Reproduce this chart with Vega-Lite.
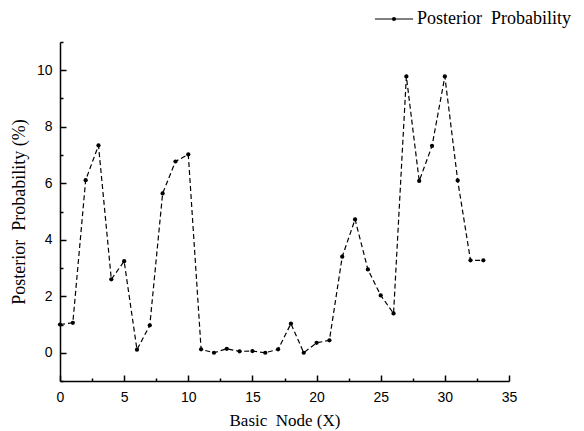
{
  "$schema": "https://vega.github.io/schema/vega-lite/v6.json",
  "autosize": "none",
  "width": 449,
  "height": 339,
  "padding": {"left": 60, "top": 42, "right": 75, "bottom": 50},
  "background": "white",
  "config": {
    "view": {"stroke": null},
    "axis": {
      "grid": false,
      "domainColor": "black",
      "domainWidth": 1.5,
      "tickColor": "black",
      "tickWidth": 1.5,
      "labelFont": "Liberation Sans",
      "labelFontSize": 14,
      "labelColor": "black",
      "titleFont": "Liberation Serif",
      "titleFontWeight": "normal",
      "titleColor": "black"
    }
  },
  "data": {
    "values": [
      {"x": 0, "y": 1.0},
      {"x": 1, "y": 1.06},
      {"x": 2, "y": 6.11},
      {"x": 3, "y": 7.34},
      {"x": 4, "y": 2.6},
      {"x": 5, "y": 3.24},
      {"x": 6, "y": 0.11},
      {"x": 7, "y": 0.97},
      {"x": 8, "y": 5.64},
      {"x": 9, "y": 6.77},
      {"x": 10, "y": 7.02},
      {"x": 11, "y": 0.12},
      {"x": 12, "y": 0.0},
      {"x": 13, "y": 0.14},
      {"x": 14, "y": 0.05},
      {"x": 15, "y": 0.06},
      {"x": 16, "y": 0.0},
      {"x": 17, "y": 0.12},
      {"x": 18, "y": 1.03},
      {"x": 19, "y": 0.0},
      {"x": 20, "y": 0.35},
      {"x": 21, "y": 0.44},
      {"x": 22, "y": 3.4},
      {"x": 23, "y": 4.72},
      {"x": 24, "y": 2.95},
      {"x": 25, "y": 2.03},
      {"x": 26, "y": 1.39},
      {"x": 27, "y": 9.78},
      {"x": 28, "y": 6.08},
      {"x": 29, "y": 7.32},
      {"x": 30, "y": 9.78},
      {"x": 31, "y": 6.1},
      {"x": 32, "y": 3.27},
      {"x": 33, "y": 3.27}
    ]
  },
  "encoding": {
    "x": {
      "field": "x",
      "type": "quantitative",
      "scale": {"domain": [0, 35], "nice": false, "zero": false},
      "axis": {
        "title": "Basic\u00a0\u00a0Node (X)",
        "titleFontSize": 17,
        "values": [0, 2.5, 5, 7.5, 10, 12.5, 15, 17.5, 20, 22.5, 25, 27.5, 30, 32.5, 35],
        "labelExpr": "datum.value % 5 === 0 ? datum.label : ''",
        "tickSize": {"condition": {"test": "datum.value % 5 === 0", "value": -6}, "value": -3},
        "labelPadding": 15,
        "titlePadding": 5,
        "labelFlush": false,
        "labelOverlap": false
      }
    },
    "y": {
      "field": "y",
      "type": "quantitative",
      "scale": {"domain": [-1, 11], "nice": false, "zero": false},
      "axis": {
        "title": "Posterior\u00a0\u00a0Probability (%)",
        "titleFontSize": 18,
        "values": [-1, 0, 1, 2, 3, 4, 5, 6, 7, 8, 9, 10, 11],
        "labelExpr": "datum.value % 2 === 0 ? datum.label : ''",
        "tickSize": {"condition": {"test": "datum.value % 2 === 0", "value": -6}, "value": -3},
        "labelPadding": 14,
        "titlePadding": 8,
        "labelFlush": false,
        "labelOverlap": false
      }
    }
  },
  "layer": [
    {
      "mark": {"type": "line", "strokeDash": [5, 3], "strokeWidth": 1.2},
      "encoding": {
        "color": {
          "datum": "Posterior\u00a0\u00a0Probability",
          "type": "nominal",
          "scale": {"range": ["black"]},
          "legend": {
            "title": null,
            "orient": "none",
            "legendX": 314,
            "legendY": -43,
            "symbolType": "M-1,0H1M-0.065,-0.065H0.065V0.065H-0.065Z",
            "symbolSize": 1450,
            "symbolStrokeWidth": 1,
            "symbolDash": [],
            "symbolFillColor": "black",
            "symbolStrokeColor": "black",
            "labelFont": "Liberation Serif",
            "labelFontSize": 18,
            "labelColor": "black",
            "labelOffset": 3
          }
        }
      }
    },
    {
      "mark": {"type": "point", "shape": "circle", "filled": true, "size": 18, "color": "black", "opacity": 1}
    }
  ]
}
